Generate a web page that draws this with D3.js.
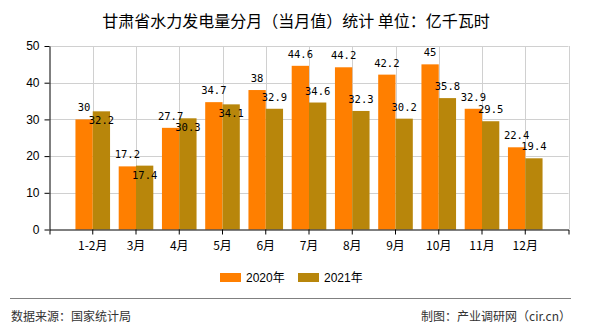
<!DOCTYPE html>
<html><head><meta charset="utf-8">
<script src="https://cdn.jsdelivr.net/npm/d3@7"></script>
<style>
body{margin:0;background:#fff;}
svg{display:block;}
</style></head>
<body>
<svg id="c" width="590" height="330"></svg>
<script>
const categories = ["1-2月","3月","4月","5月","6月","7月","8月","9月","10月","11月","12月"];
const seriesNames = ["2020年","2021年"];
const values2020 = [30,17.2,27.7,34.7,38,44.6,44.2,42.2,45,32.9,22.4];
const values2021 = [32.2,17.4,30.3,34.1,32.9,34.6,32.3,30.2,35.8,29.5,19.4];
const yTicks = [0,10,20,30,40,50];
const colors = ["#FF7F00","#B8860B"];
const titleText = "甘肃省水力发电量分月（当月值）统计 单位：亿千瓦时";
const sourceText = "数据来源：国家统计局";
const makerText = "制图：产业调研网（cir.cn）";

const svg = d3.select("#c");
const X0 = 49.5, X1 = 568.5, Y0 = 229.5, Y1 = 46;
const cjk = "'Noto Sans CJK SC','Noto Sans',sans-serif";

const x = d3.scaleBand().domain(categories).range([X0, X1]).paddingInner(0.2).paddingOuter(0.6);
const xs = d3.scaleBand().domain(seriesNames).range([0, x.bandwidth()]);
const y = d3.scaleLinear().domain([0, 50]).range([Y0, Y1]);

// title
svg.append("text").attr("x", 296).attr("y", 27).attr("text-anchor","middle")
  .attr("font-family", cjk).attr("font-size", 16).attr("fill","#000").text(titleText);

// grid
const grid = svg.append("g");
grid.selectAll("line.h").data(yTicks.filter(d=>d>0)).join("line")
  .attr("x1", X0).attr("x2", X1).attr("y1", d=>Math.round(y(d))+0.5).attr("y2", d=>Math.round(y(d))+0.5)
  .attr("stroke","#d0d0d0").attr("stroke-width",1);
const vx = categories.map(c => x(c) + x.bandwidth()/2).concat([X1]);
grid.selectAll("line.v").data(vx).join("line")
  .attr("x1", d=>Math.round(d)+0.5).attr("x2", d=>Math.round(d)+0.5).attr("y1", Y1).attr("y2", Y0)
  .attr("stroke","#d0d0d0").attr("stroke-width",1);

// bars
const rows = categories.map((c,i)=>({c, v:[values2020[i], values2021[i]]}));
const gBars = svg.append("g");
rows.forEach(r => {
  r.v.forEach((v,j) => {
    gBars.append("rect")
      .attr("x", x(r.c) + xs(seriesNames[j]))
      .attr("y", y(v))
      .attr("width", xs.bandwidth())
      .attr("height", y(0) - y(v))
      .attr("fill", colors[j]);
  });
});

// axes
const ax = svg.append("g").attr("transform", `translate(0,${Y0})`)
  .call(d3.axisBottom(x).tickSizeInner(5).tickSizeOuter(5).tickPadding(4));
ax.selectAll("text").attr("font-family", cjk).attr("font-size", 12).attr("fill","#000").attr("dy","0.95em");
ax.selectAll("path,line").attr("stroke","#000");
const ay = svg.append("g").attr("transform", `translate(${X0},0)`)
  .call(d3.axisLeft(y).tickValues(yTicks).tickSizeInner(5).tickSizeOuter(0).tickPadding(5));
ay.selectAll("text").attr("font-family","'Liberation Sans',Arial,sans-serif").attr("font-size", 12).attr("fill","#000");
ay.selectAll("path,line").attr("stroke","#000");

// value labels with simple collision avoidance
const lf = "'DejaVu Sans Mono','Liberation Mono',monospace";
const fs = 10.5, cw = 6.3, th = 8;
const gLab = svg.append("g").attr("font-family", lf).attr("font-size", fs).attr("fill","#000").attr("text-anchor","middle");
rows.forEach(r => {
  const cx0 = x(r.c) + xs(seriesNames[0]) + xs.bandwidth()/2;
  const cx1 = x(r.c) + xs(seriesNames[1]) + xs.bandwidth()/2;
  const s0 = String(r.v[0]), s1 = String(r.v[1]);
  const b0 = y(r.v[0]) - 8;
  const box0 = {l: cx0 - s0.length*cw/2, r: cx0 + s0.length*cw/2, t: b0 - th, b: b0};
  let b1 = y(r.v[1]) - 8;
  const box1 = {l: cx1 - s1.length*cw/2, r: cx1 + s1.length*cw/2, t: b1 - th, b: b1};
  const pad = 2;
  const overlap = !(box1.l > box0.r + pad || box1.r < box0.l - pad || box1.t > box0.b + pad || box1.b < box0.t - pad);
  if (overlap) b1 = y(r.v[1]) + 13;
  gLab.append("text").attr("x", cx0).attr("y", b0).text(s0);
  gLab.append("text").attr("x", cx1).attr("y", b1).text(s1);
});

// legend
const lg = svg.append("g");
const legX = [220, 298];
seriesNames.forEach((n,j) => {
  lg.append("rect").attr("x", legX[j]).attr("y", 273).attr("width", 21).attr("height", 9).attr("fill", colors[j]);
  lg.append("text").attr("x", legX[j] + 26).attr("y", 282).attr("font-family", "'Liberation Sans',Arial,'Noto Sans CJK SC',sans-serif")
    .attr("font-size", 12).attr("fill","#000").text(n);
});

// footer
svg.append("line").attr("x1", 10).attr("x2", 571).attr("y1", 298.5).attr("y2", 298.5).attr("stroke","#808080").attr("stroke-width",1);
svg.append("text").attr("x", 11).attr("y", 321).attr("font-family", cjk).attr("font-size", 12).attr("fill","#333").text(sourceText);
svg.append("text").attr("x", 571).attr("y", 321).attr("text-anchor","end").attr("font-family", cjk).attr("font-size", 12).attr("fill","#333").text(makerText);
</script>
</body></html>
